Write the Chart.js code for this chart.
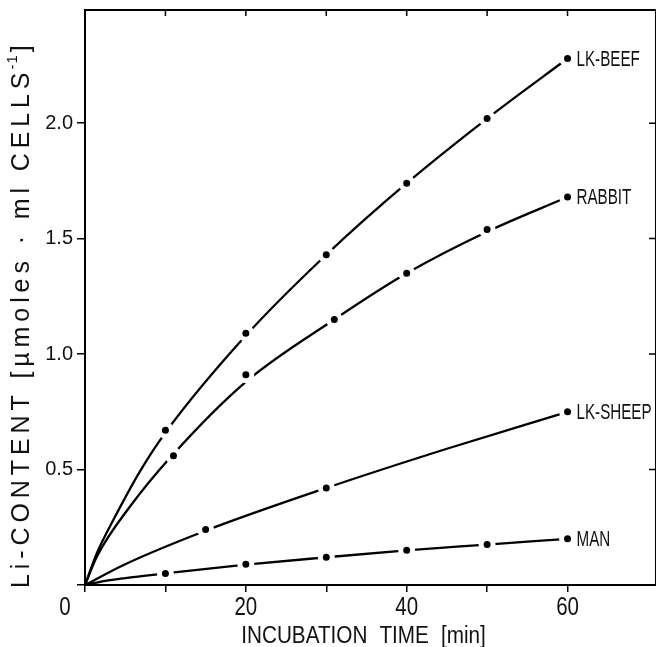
<!DOCTYPE html>
<html>
<head>
<meta charset="utf-8">
<script src="https://cdn.jsdelivr.net/npm/chart.js@4.4.0/dist/chart.umd.min.js"></script>
<style>
  html, body { margin: 0; padding: 0; background: #fff; }
  #grafico { display: block; }
</style>
</head>
<body>
<canvas id="grafico" width="656" height="647"></canvas>
<script>
// measured points (incubation time in min, Li content)
const beefTime = [10, 20, 30, 40, 50, 60];
const beefLi = [0.67, 1.09, 1.43, 1.74, 2.02, 2.28];
const rabbitTime = [11, 20, 31, 40, 50, 60];
const rabbitLi = [0.56, 0.91, 1.15, 1.35, 1.54, 1.68];
const sheepTime = [15, 30, 60];
const sheepLi = [0.24, 0.42, 0.75];
const manTime = [10, 20, 30, 40, 50, 60];
const manLi = [0.05, 0.09, 0.12, 0.15, 0.175, 0.20];

// drawn curves
const beefCurveT = [0, 1.5, 3.5, 6.8, 10, 20, 30, 40, 50, 60];
const beefCurveY = [0, 0.14, 0.28, 0.49, 0.66, 1.08, 1.43, 1.74, 2.02, 2.28];
const rabbitCurveT = [0, 1.5, 5.6, 10.8, 20, 31, 40, 50, 60];
const rabbitCurveY = [0, 0.125, 0.34, 0.56, 0.88, 1.15, 1.35, 1.53, 1.68];
const sheepCurveT = [0, 5, 15, 30, 45, 60];
const sheepCurveY = [0, 0.09, 0.235, 0.42, 0.59, 0.75];
const manCurveT = [0, 2, 5, 10, 20, 30, 40, 50, 60];
const manCurveY = [0, 0.015, 0.03, 0.05, 0.088, 0.12, 0.15, 0.175, 0.2];

const seriesNames = ['LK-BEEF', 'RABBIT', 'LK-SHEEP', 'MAN'];
const xTickValues = [20, 40, 60];
const xTickLabels = ['20', '40', '60'];
const yTickLabels = ['0.5', '1.0', '1.5', '2.0'];

function pares(xs, ys) {
    return xs.map((x, i) => ({ x: x, y: ys[i] }));
}

const pontos = [
    pares(beefTime, beefLi),
    pares(rabbitTime, rabbitLi),
    pares(sheepTime, sheepLi),
    pares(manTime, manLi)
];
const curvas = [
    pares(beefCurveT, beefCurveY),
    pares(rabbitCurveT, rabbitCurveY),
    pares(sheepCurveT, sheepCurveY),
    pares(manCurveT, manCurveY)
];

const datasets = [];
pontos.forEach((p, i) => {
    datasets.push({
        type: 'scatter',
        label: seriesNames[i],
        data: p,
        order: 0,
        pointRadius: 6,
        pointBorderWidth: 5,
        pointBackgroundColor: '#000',
        pointBorderColor: '#fff'
    });
});
curvas.forEach((c, i) => {
    datasets.push({
        type: 'line',
        label: seriesNames[i] + ' curve',
        data: c,
        order: 1,
        borderColor: '#000',
        borderWidth: 2.3,
        pointRadius: 0,
        fill: false,
        cubicInterpolationMode: 'monotone'
    });
});

const sans = '"Liberation Sans", Arial, sans-serif';

// texto comprimido na horizontal (a fonte original e estreita)
function textoEstreito(ctx, txt, x, y, fator) {
    ctx.save();
    ctx.translate(x, y);
    ctx.scale(fator, 1);
    ctx.fillText(txt, 0, 0);
    ctx.restore();
}

// frame, inward ticks, x labels, y title and curve labels
const extras = {
    id: 'extras',
    afterDraw(chart) {
        const ctx = chart.ctx;
        const a = chart.chartArea;
        const xs = chart.scales.x;
        const ys = chart.scales.y;
        ctx.save();
        ctx.strokeStyle = '#000';
        ctx.lineWidth = 2;
        ctx.beginPath();
        ctx.moveTo(a.left, a.top);
        ctx.lineTo(a.right + 2, a.top);
        ctx.moveTo(a.right, a.top);
        ctx.lineTo(a.right, a.bottom);
        ctx.stroke();
        ctx.lineWidth = 1.5;
        ctx.beginPath();
        xs.ticks.forEach(t => {
            if (t.value <= 0) return;
            const px = xs.getPixelForValue(t.value);
            ctx.moveTo(px, a.top);
            ctx.lineTo(px, a.top + 6);
        });
        ys.ticks.forEach(t => {
            if (t.value <= 0) return;
            const py = ys.getPixelForValue(t.value);
            ctx.moveTo(a.right, py);
            ctx.lineTo(a.right - 7, py);
        });
        ctx.stroke();

        ctx.fillStyle = '#111';
        ctx.textAlign = 'center';
        ctx.textBaseline = 'alphabetic';

        // x tick labels and corner zero
        ctx.font = '25px ' + sans;
        textoEstreito(ctx, '0', xs.getPixelForValue(0) - 20, a.bottom + 30, 0.82);
        xTickValues.forEach((v, i) => {
            textoEstreito(ctx, xTickLabels[i], xs.getPixelForValue(v), a.bottom + 30, 0.82);
        });

        // x axis title
        ctx.font = '23px ' + sans;
        ctx.wordSpacing = '7px';
        textoEstreito(ctx, 'INCUBATION TIME [min]', (a.left + a.right) / 2 - 7, a.bottom + 58, 0.9);
        ctx.wordSpacing = '0px';

        // curve labels next to the last point
        ctx.font = '22px ' + sans;
        ctx.textAlign = 'left';
        ctx.textBaseline = 'middle';
        pontos.forEach((p, i) => {
            const last = p[p.length - 1];
            textoEstreito(ctx, seriesNames[i], xs.getPixelForValue(last.x) + 9, ys.getPixelForValue(last.y) + 1, 0.69);
        });

        // y axis title
        ctx.translate(29, a.bottom + 3);
        ctx.rotate(-Math.PI / 2);
        ctx.textBaseline = 'alphabetic';
        ctx.font = '25px ' + sans;
        ctx.letterSpacing = '4.9px';
        const parte1 = 'Li-CONTENT [\u00b5moles \u00b7 ml CELLS';
        ctx.fillText(parte1, 0, 0);
        let w = ctx.measureText(parte1).width;
        ctx.font = '15px ' + sans;
        ctx.letterSpacing = '1px';
        ctx.fillText('-1', w - 2, -12);
        w += ctx.measureText('-1').width;
        ctx.font = '25px ' + sans;
        ctx.fillText(']', w, 0);
        ctx.restore();
    }
};

function soMultiplos(passo) {
    return function (scale) {
        scale.ticks = scale.ticks.filter(t => Math.abs(t.value / passo - Math.round(t.value / passo)) < 1e-6 && t.value <= 60.01);
    };
}

function semPadding(scale) {
    scale.paddingTop = 0;
    scale.paddingBottom = 0;
    scale.paddingLeft = 0;
    scale.paddingRight = 0;
}

const ctx = document.getElementById('grafico').getContext('2d');
new Chart(ctx, {
    data: { datasets: datasets },
    plugins: [extras],
    options: {
        responsive: false,
        animation: false,
        layout: { autoPadding: false, padding: { top: 10, right: 0, left: 0, bottom: 0 } },
        plugins: {
            legend: { display: false },
            tooltip: { enabled: false }
        },
        scales: {
            x: {
                type: 'linear',
                min: 0,
                max: 71,
                afterBuildTicks: soMultiplos(10),
                afterFit(scale) { scale.height = 62; semPadding(scale); },
                ticks: {
                    display: false,
                    stepSize: 10,
                    autoSkip: false
                },
                grid: { drawOnChartArea: false, drawTicks: true, tickLength: 7, color: '#000', lineWidth: 1.5 },
                border: { color: '#000', width: 2 }
            },
            y: {
                type: 'linear',
                min: 0,
                max: 2.49,
                afterBuildTicks: soMultiplos(0.5),
                afterFit(scale) { scale.width = 85; semPadding(scale); },
                ticks: {
                    stepSize: 0.5,
                    color: '#111',
                    font: { family: sans, size: 20 },
                    padding: 4,
                    callback: function (v) {
                        const i = [0.5, 1, 1.5, 2].indexOf(v);
                        return i >= 0 ? yTickLabels[i] : '';
                    }
                },
                grid: { drawOnChartArea: false, tickLength: 8, color: '#000', lineWidth: 1.5 },
                border: { color: '#000', width: 2 }
            }
        }
    }
});
</script>
</body>
</html>
